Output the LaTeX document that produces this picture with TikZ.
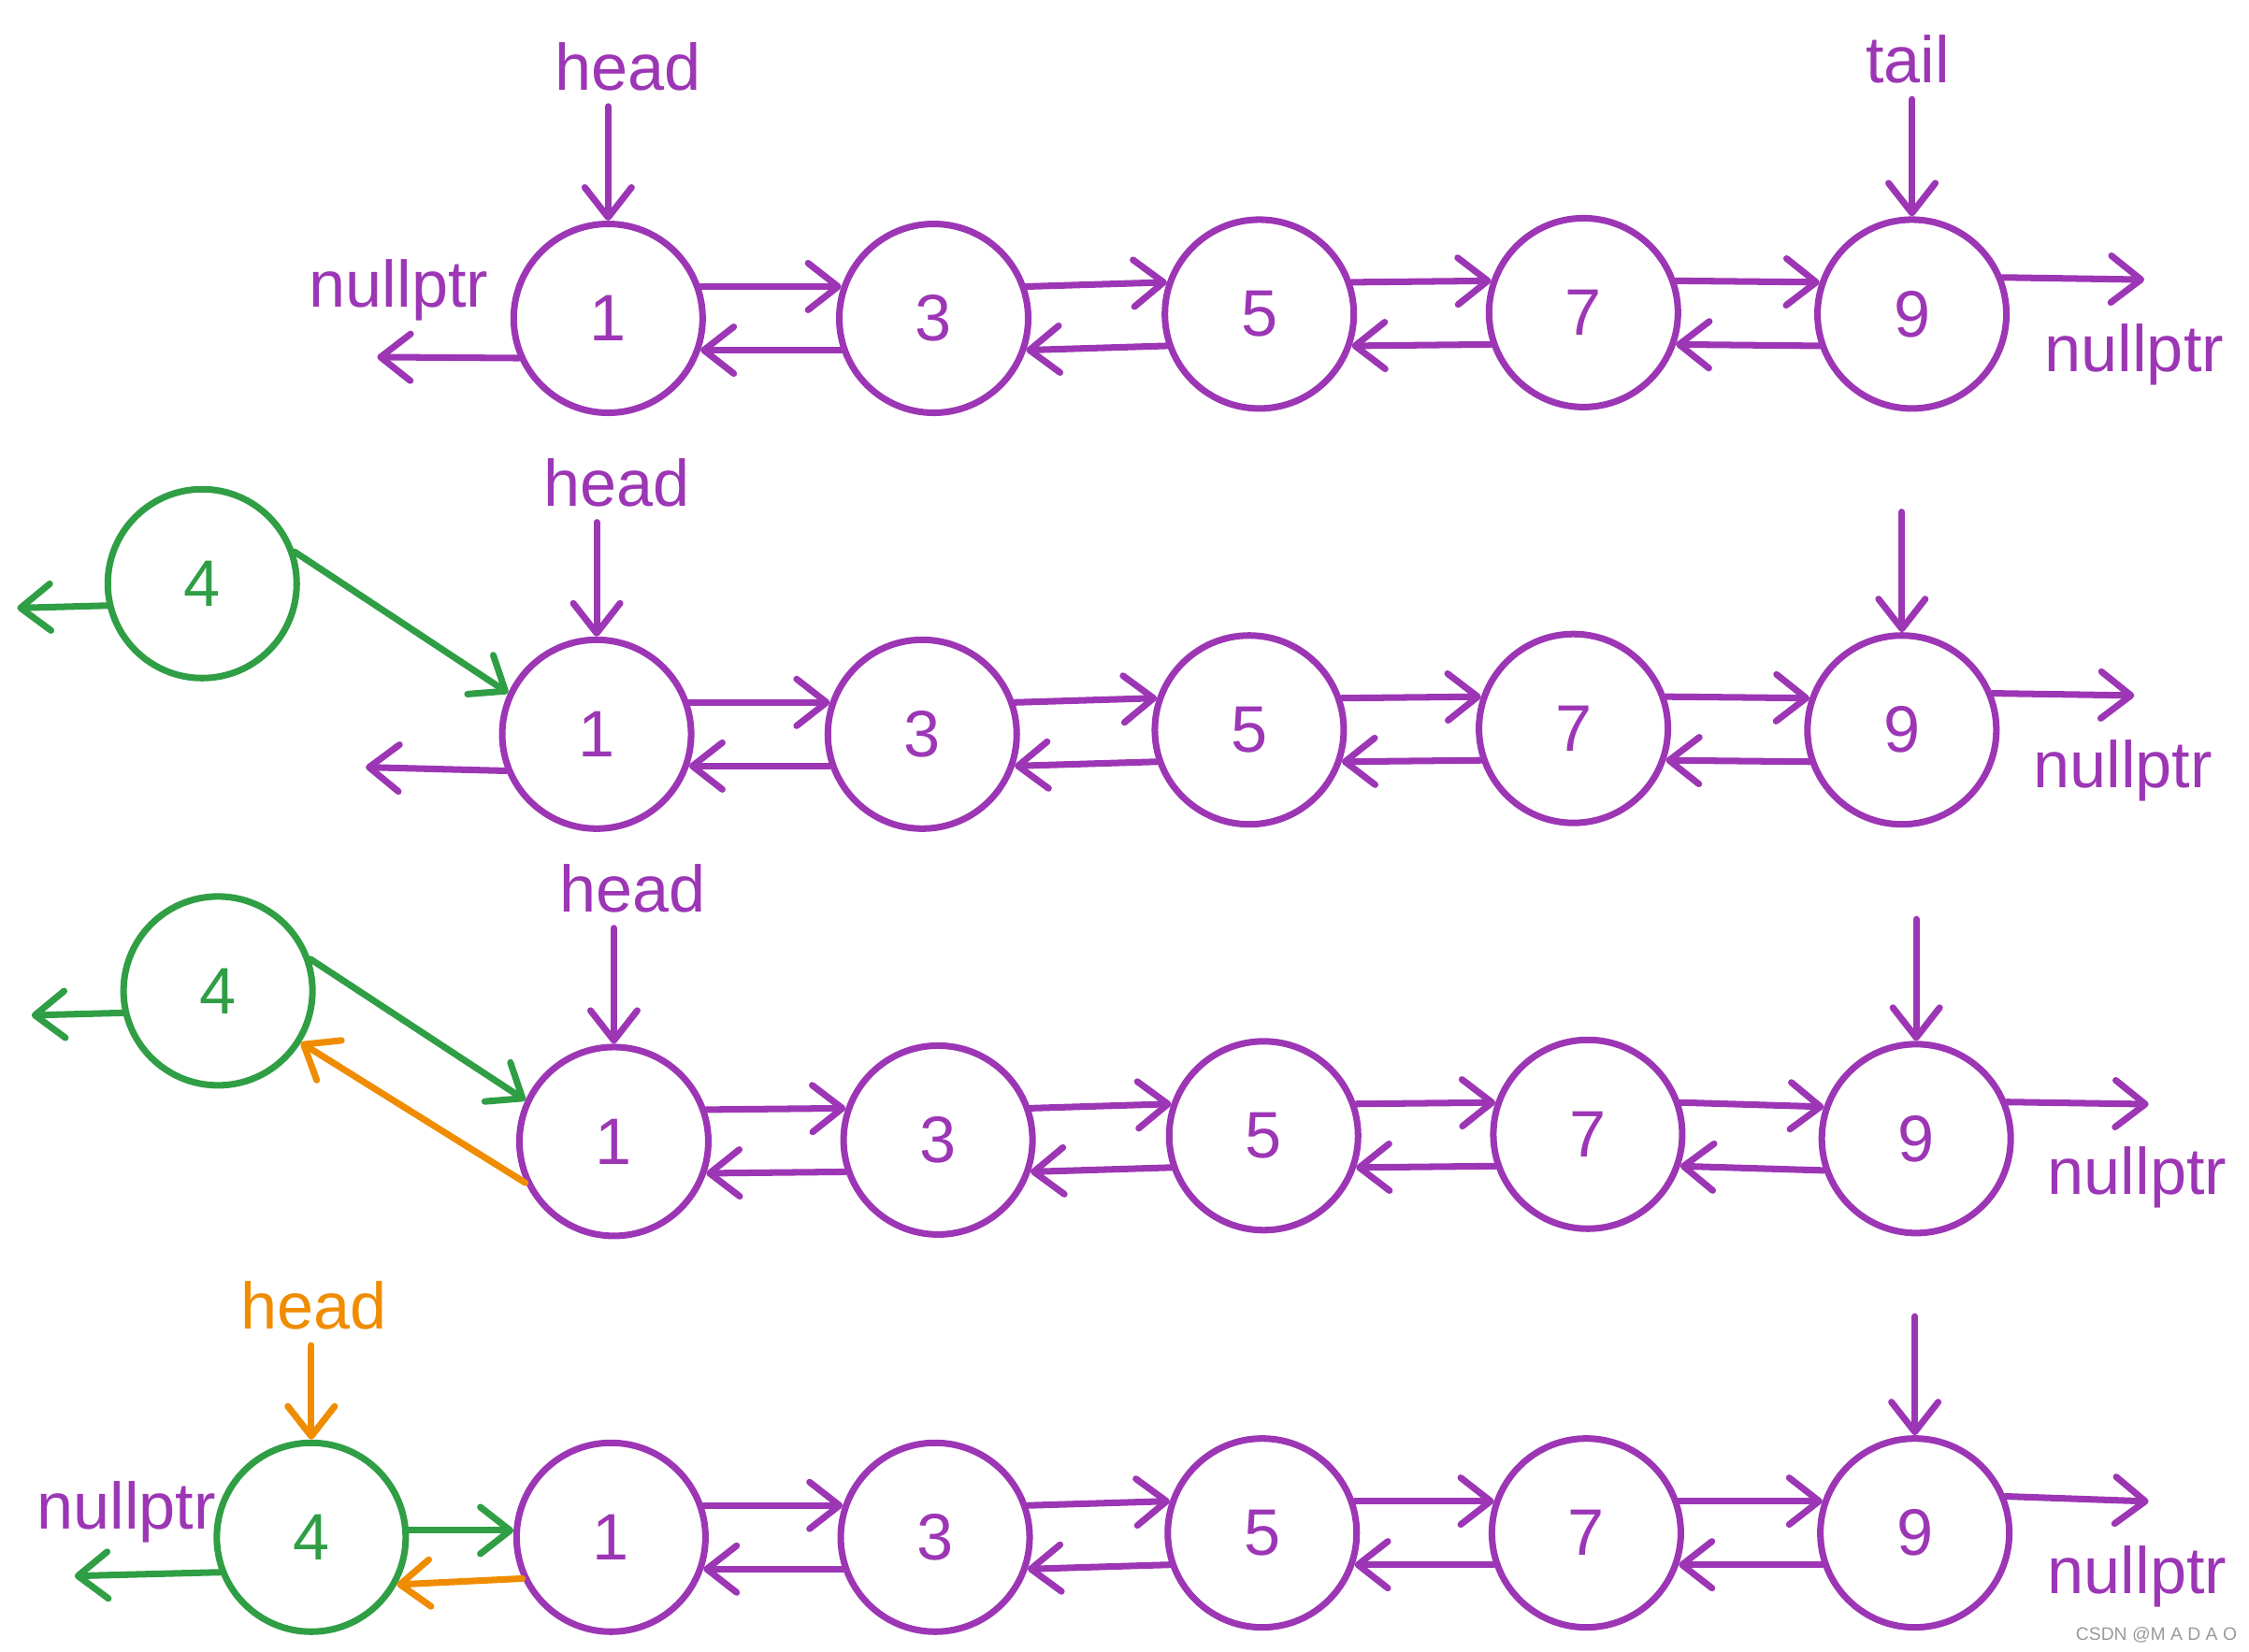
\documentclass[tikz,border=0pt]{standalone}
\usepackage{fontspec}
\setmainfont{Liberation Sans}
\usetikzlibrary{arrows.meta}
\definecolor{lviolet}{RGB}{156,54,181}
\definecolor{lgreen}{RGB}{47,158,68}
\definecolor{lorange}{RGB}{240,140,0}
\tikzset{
  lnode/.style={circle, draw, line width=2pt, minimum size=20.2mm, inner sep=0pt, font=\fontsize{20}{24}\selectfont},
  vnode/.style={lnode, draw=lviolet, text=lviolet},
  gnode/.style={lnode, draw=lgreen, text=lgreen},
  link/.style={line width=2pt, line cap=round, line join=round, -{Straight Barb[length=3.2mm,width=5mm,line cap=round,line join=round]}},
  lbl/.style={font=\fontsize{20}{24}\selectfont, inner sep=0pt, anchor=base, text=lviolet},
}
\begin{document}
\begin{tikzpicture}[x=0.15338mm, y=-0.15338mm]
\useasboundingbox (0,0) rectangle (1568,1152);

\node[vnode] (a1) at (424,222) {1};
\node[vnode] (a3) at (651,222) {3};
\node[vnode] (a5) at (878,219) {5};
\node[vnode] (a7) at (1104,218) {7};
\node[vnode] (a9) at (1333,219) {9};
\node[lbl] (ahead) at (438,63) {head};
\node[lbl] (atail) at (1330,58) {tail};
\node[lbl] (anull) at (278,214) {nullptr};
\node[lbl] (anullr) at (1488,259) {nullptr};
\coordinate (aleft) at (263,249);
\coordinate (aright) at (1495,195);

\draw[link, lviolet, shorten <=4.5pt] (a1.north |- ahead.south) -- (a1.north);
\draw[link, lviolet, shorten <=4.5pt] (a9.north |- atail.south) -- (a9.north);
\draw[link, lviolet] (a1.19) -- (a3.161);
\draw[link, lviolet] (a3.19) -- (a5.161);
\draw[link, lviolet] (a5.19) -- (a7.161);
\draw[link, lviolet] (a7.19) -- (a9.161);
\draw[link, lviolet] (a3.199) -- (a1.341);
\draw[link, lviolet] (a5.199) -- (a3.341);
\draw[link, lviolet] (a7.199) -- (a5.341);
\draw[link, lviolet] (a9.199) -- (a7.341);
\draw[link, lviolet] (a1.204) -- (aleft);
\draw[link, lviolet] (a9.22) -- (aright);

\node[gnode] (b4) at (141,407) {4};
\node[vnode] (b1) at (416,512) {1};
\node[vnode] (b3) at (643,512) {3};
\node[vnode] (b5) at (871,509) {5};
\node[vnode] (b7) at (1097,508) {7};
\node[vnode] (b9) at (1326,509) {9};
\node[lbl] (bhead) at (430,353) {head};
\node[lbl] (bnullr) at (1480,549) {nullptr};
\coordinate (btail) at (1326,357);
\coordinate (bleft) at (255,535);
\coordinate (bright) at (1488,485);
\coordinate (bgleft) at (12,424);

\draw[link, lviolet, shorten <=4.5pt] (b1.north |- bhead.south) -- (b1.north);
\draw[link, lviolet] (btail) -- (b9.north);
\draw[link, lgreen] (b4.19) -- (b1.155);
\draw[link, lgreen] (b4.193) -- (bgleft);
\draw[link, lviolet] (b1.19) -- (b3.161);
\draw[link, lviolet] (b3.19) -- (b5.161);
\draw[link, lviolet] (b5.19) -- (b7.161);
\draw[link, lviolet] (b7.19) -- (b9.161);
\draw[link, lviolet] (b3.199) -- (b1.341);
\draw[link, lviolet] (b5.199) -- (b3.341);
\draw[link, lviolet] (b7.199) -- (b5.341);
\draw[link, lviolet] (b9.199) -- (b7.341);
\draw[link, lviolet] (b1.202) -- (bleft);
\draw[link, lviolet] (b9.22) -- (bright);

\node[gnode] (c4) at (152,691) {4};
\node[vnode] (c1) at (428,796) {1};
\node[vnode] (c3) at (654,795) {3};
\node[vnode] (c5) at (881,792) {5};
\node[vnode] (c7) at (1107,791) {7};
\node[vnode] (c9) at (1336,794) {9};
\node[lbl] (chead) at (441,636) {head};
\node[lbl] (cnullr) at (1490,833) {nullptr};
\coordinate (ctail) at (1336,641);
\coordinate (cright) at (1498,770);
\coordinate (cgleft) at (22,708);

\draw[link, lviolet, shorten <=4.5pt] (c1.north |- chead.south) -- (c1.north);
\draw[link, lviolet] (ctail) -- (c9.north);
\draw[link, lgreen] (c4.19) -- (c1.155);
\draw[link, lgreen] (c4.193) -- (cgleft);
\draw[link, lorange] (c1.205) -- (c4.328);
\draw[link, lviolet] (c1.19) -- (c3.161);
\draw[link, lviolet] (c3.19) -- (c5.161);
\draw[link, lviolet] (c5.19) -- (c7.161);
\draw[link, lviolet] (c7.19) -- (c9.161);
\draw[link, lviolet] (c3.199) -- (c1.341);
\draw[link, lviolet] (c5.199) -- (c3.341);
\draw[link, lviolet] (c7.199) -- (c5.341);
\draw[link, lviolet] (c9.199) -- (c7.341);
\draw[link, lviolet] (c9.22) -- (cright);

\node[gnode] (d4) at (217,1072) {4};
\node[vnode] (d1) at (426,1072) {1};
\node[vnode] (d3) at (652,1072) {3};
\node[vnode] (d5) at (880,1069) {5};
\node[vnode] (d7) at (1106,1069) {7};
\node[vnode] (d9) at (1335,1069) {9};
\node[lbl, text=lorange] (dhead) at (219,927) {head};
\node[lbl] (dnull) at (88,1066) {nullptr};
\node[lbl] (dnullr) at (1490,1111) {nullptr};
\coordinate (dtail) at (1335,918);
\coordinate (dright) at (1498,1047);
\coordinate (dgleft) at (52,1099);

\draw[link, lorange, shorten <=4.5pt] (d4.north |- dhead.south) -- (d4.north);
\draw[link, lviolet] (dtail) -- (d9.north);
\draw[link, lgreen] (d4.4) -- (d1.176);
\draw[link, lorange] (d1.205) -- (d4.331);
\draw[link, lgreen] (d4.201) -- (dgleft);
\draw[link, lviolet] (d1.19) -- (d3.161);
\draw[link, lviolet] (d3.19) -- (d5.161);
\draw[link, lviolet] (d5.19) -- (d7.161);
\draw[link, lviolet] (d7.19) -- (d9.161);
\draw[link, lviolet] (d3.199) -- (d1.341);
\draw[link, lviolet] (d5.199) -- (d3.341);
\draw[link, lviolet] (d7.199) -- (d5.341);
\draw[link, lviolet] (d9.199) -- (d7.341);
\draw[link, lviolet] (d9.22) -- (dright);

\node[font=\fontsize{5.5}{6}\selectfont, text=black!40, inner sep=0pt, anchor=base east] (mark) at (1560,1144) {CSDN @M A D A O};
\end{tikzpicture}
\end{document}
